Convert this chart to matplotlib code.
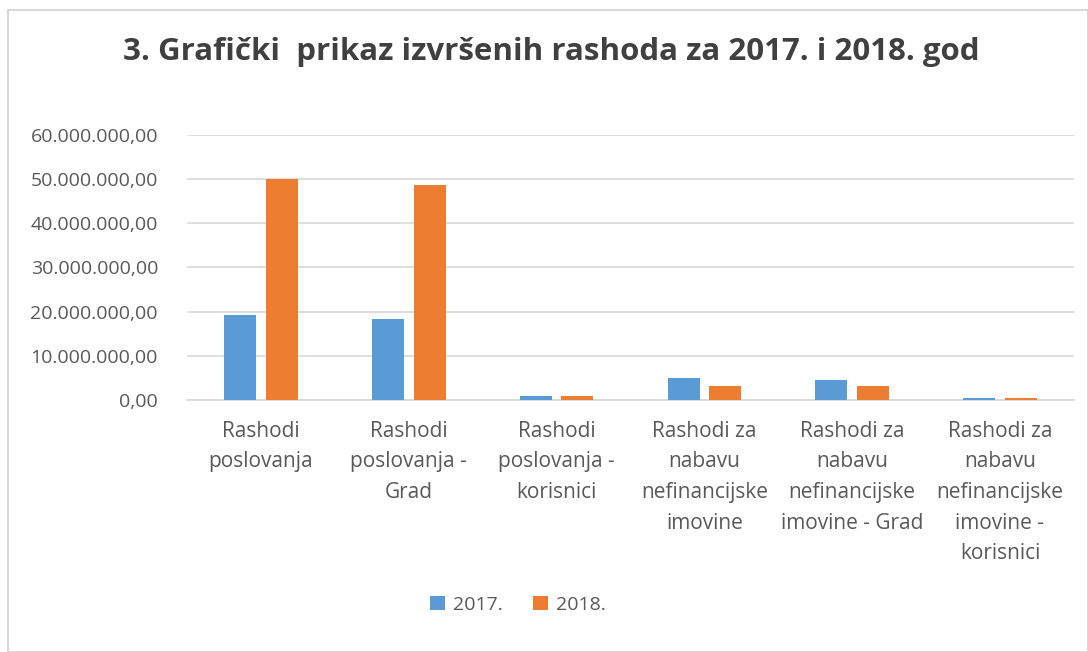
import numpy as np
import matplotlib.pyplot as plt
from matplotlib.patches import Rectangle

# Podaci
kategorije = ["Rashodi\nposlovanja",
              "Rashodi\nposlovanja -\nGrad",
              "Rashodi\nposlovanja -\nkorisnici",
              "Rashodi za\nnabavu\nnefinancijske\nimovine",
              "Rashodi za\nnabavu\nnefinancijske\nimovine - Grad",
              "Rashodi za\nnabavu\nnefinancijske\nimovine -\nkorisnici"]
rashodi_2017 = [19200000, 18300000, 900000, 4900000, 4600000, 350000]
rashodi_2018 = [50000000, 48600000, 900000, 3200000, 3200000, 350000]
y_tickovi = [0, 10000000, 20000000, 30000000, 40000000, 50000000, 60000000]

plt.rcParams['font.family'] = ['Open Sans', 'DejaVu Sans']

def format_hr(v):
    s = f"{v:,.2f}"
    return s.replace(",", "X").replace(".", ",").replace("X", ".")

fig = plt.figure(figsize=(10.88, 6.52), dpi=100)
fig.patches.append(Rectangle((8/1088, 0), 1 - 8/1088, 1 - 10/652, transform=fig.transFigure,
                             fill=False, edgecolor='#d9d9d9', linewidth=1.5))
ax = fig.add_axes([0.172, 0.3865, 0.815, 0.4065])

x = np.arange(len(kategorije))
w = 0.216
ax.bar(x - 0.141, rashodi_2017, w, color='#5b9bd5', label='2017.', zorder=3)
ax.bar(x + 0.141, rashodi_2018, w, color='#ed7d31', label='2018.', zorder=3)

ax.set_xlim(-0.5, 5.5)
ax.set_ylim(0, 60000000)
ax.set_yticks(y_tickovi)
ax.set_yticklabels([format_hr(v) for v in y_tickovi], fontsize=14)
ax.set_xticks(x)
ax.set_xticklabels(kategorije, linespacing=1.6, va='top', fontsize=15)
ax.tick_params(axis='both', length=0, labelcolor='#595959')
ax.tick_params(axis='y', pad=21)
ax.tick_params(axis='x', pad=15)
ax.yaxis.grid(True, color='#d9d9d9', linewidth=1.2, zorder=0)
for s in ['top', 'right', 'left']:
    ax.spines[s].set_visible(False)
ax.spines['bottom'].set_color('#d9d9d9')
ax.spines['bottom'].set_linewidth(1.2)

fig.text(0.507, 0.92, "3. Grafički  prikaz izvršenih rashoda za 2017. i 2018. god",
         ha='center', va='center', fontsize=22.5, fontweight='bold', color='#404040')

ax.legend(loc='center', bbox_to_anchor=(0.476, 1 - 605/652), bbox_transform=fig.transFigure,
          ncol=2, frameon=False, fontsize=14, handlelength=0.75, handleheight=0.75,
          handletextpad=0.4, columnspacing=1.6, labelcolor='#595959')

plt.savefig('out.png', dpi=100)
